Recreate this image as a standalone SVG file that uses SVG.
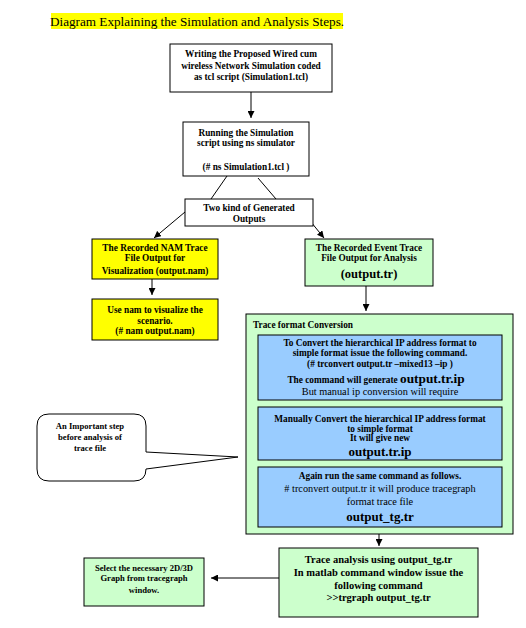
<svg xmlns="http://www.w3.org/2000/svg" width="526" height="628" viewBox="0 0 526 628">
<style>
text{font-family:"Liberation Serif","Times New Roman",serif;fill:#000;text-anchor:middle}
.b{font-weight:bold;font-size:9.3px}
.r{font-size:10.3px}
.big{font-weight:bold;font-size:13px}
.box{stroke:#000;stroke-width:1}
.w{fill:#fff}
.y{fill:#ffff00}
.g{fill:#ccffcc}
.bl{fill:#99ccff}
.c line,.c polyline{stroke:#000;stroke-width:1;fill:none}
.arr{marker-end:url(#ah)}
</style>
<defs>
<marker id="ah" viewBox="0 0 10 10" refX="10" refY="5" markerWidth="7" markerHeight="7" orient="auto" markerUnits="userSpaceOnUse">
<path d="M0,0 L10,5 L0,10 z" fill="#000"/>
</marker>
</defs>
<rect width="526" height="628" fill="#fff"/>

<g id="title">
<rect x="51" y="13" width="292" height="16" fill="#ffff00"/>
<text x="197" y="26" style="font-size:13.2px">Diagram Explaining the Simulation and Analysis Steps.</text>
</g>

<g id="connectors" class="c">
<line class="arr" x1="251" y1="92" x2="251" y2="118"/>
<line x1="227" y1="176" x2="211" y2="199"/>
<line x1="258" y1="178" x2="276" y2="199"/>
<line class="arr" x1="185" y1="212" x2="154" y2="238"/>
<line class="arr" x1="311" y1="222" x2="324" y2="238"/>
<line class="arr" x1="152" y1="279" x2="152" y2="295"/>
<line class="arr" x1="366" y1="286" x2="366" y2="311"/>
<line class="arr" x1="379" y1="534" x2="379" y2="546"/>
<line class="arr" x1="279" y1="578" x2="211" y2="578"/>
</g>

<g id="n1">
<rect class="box w" x="170" y="44" width="162" height="48"/>
<text class="b" x="251" y="57">Writing the Proposed Wired cum</text>
<text class="b" x="251" y="68.5">wireless Network Simulation coded</text>
<text class="b" x="251" y="80">as tcl script (Simulation1.tcl)</text>
</g>

<g id="n2">
<rect class="box w" x="183" y="122" width="126" height="54"/>
<text class="b" x="246" y="136">Running the Simulation</text>
<text class="b" x="246" y="145.5">script using ns simulator</text>
<text class="b" x="246" y="170">(# ns Simulation1.tcl )</text>
</g>

<g id="n3">
<rect class="box w" x="185" y="199" width="128" height="27"/>
<text class="b" x="249" y="211">Two kind of  Generated</text>
<text class="b" x="249" y="221.5">Outputs</text>
</g>

<g id="n4">
<rect class="box y" x="92" y="239" width="126" height="40"/>
<text class="b" x="155" y="251">The Recorded NAM Trace</text>
<text class="b" x="155" y="261">File Output  for</text>
<text class="b" x="155" y="274">Visualization (output.nam)</text>
</g>

<g id="n5">
<rect class="box y" x="92" y="299" width="126" height="41"/>
<text class="b" x="155" y="313">Use nam to visualize the</text>
<text class="b" x="155" y="323.5">scenario.</text>
<text class="b" x="155" y="333.5">(# nam  output.nam)</text>
</g>

<g id="n6">
<rect class="box g" x="305" y="239" width="128" height="47"/>
<text class="b" x="369" y="251">The Recorded Event Trace</text>
<text class="b" x="369" y="261">File Output for Analysis</text>
<text x="369" y="278" style="font-size:12.5px;font-weight:bold">(output.tr)</text>
</g>

<g id="n7">
<rect class="box g" x="246" y="314" width="267" height="220"/>
<text class="b" x="253" y="328" style="text-anchor:start">Trace format Conversion</text>
</g>

<g id="n8">
<rect class="box bl" x="258" y="335" width="244" height="65"/>
<text class="b" x="380" y="346">To Convert the hierarchical IP address format to</text>
<text class="b" x="380" y="356">simple format issue the following command.</text>
<text class="b" x="380" y="367">(# trconvert output.tr –mixed13 –ip )</text>
<text class="b" x="376" y="383">The command will generate <tspan style="font-size:13.3px">output.tr.ip</tspan></text>
<text class="r" x="380" y="394.5">But manual ip conversion will require</text>
</g>

<g id="n9">
<rect class="box bl" x="258" y="407" width="244" height="53"/>
<text class="b" x="380" y="422">Manually Convert the hierarchical IP address format</text>
<text class="b" x="380" y="431.5">to simple format</text>
<text class="b" x="380" y="440.5">It will give new</text>
<text class="big" x="380" y="456">output.tr.ip</text>
</g>

<g id="n10">
<rect class="box bl" x="258" y="467" width="244" height="60"/>
<text class="b" x="380" y="479">Again run the same command as follows.</text>
<text class="r" x="380" y="491.5"># trconvert output.tr it will produce tracegraph</text>
<text class="r" x="380" y="504.5">format trace file</text>
<text class="big" x="380" y="521">output_tg.tr</text>
</g>

<g id="n11">
<rect class="box g" x="279" y="548" width="199" height="69"/>
<text x="378.5" y="562.5" style="font-size:10.5px;font-weight:bold">Trace analysis using output_tg.tr</text>
<text x="378.5" y="575.5" style="font-size:10.5px;font-weight:bold">In matlab command window issue the</text>
<text x="378.5" y="588.5" style="font-size:10.5px;font-weight:bold">following command</text>
<text x="378.5" y="600.5" style="font-size:10.5px;font-weight:bold">&gt;&gt;trgraph output_tg.tr</text>
</g>

<g id="n12">
<rect class="box g" x="84" y="558" width="120" height="48"/>
<text x="144" y="571" style="font-size:8.6px;font-weight:bold">Select the  necessary 2D/3D</text>
<text x="144" y="581" style="font-size:8.6px;font-weight:bold">Graph from tracegraph</text>
<text x="144" y="593" style="font-size:8.6px;font-weight:bold">window.</text>
</g>

<g id="n13">
<path d="M49,414 H134 Q146,414 146,426 V452 L238,457 L146,469 Q146,481 134,481 H49 Q37,481 37,469 V426 Q37,414 49,414 Z" fill="#fff" stroke="#000" stroke-width="1"/>
<text x="90" y="429" style="font-size:8.6px;font-weight:bold">An Important step</text>
<text x="90" y="439.5" style="font-size:8.6px;font-weight:bold">before analysis of</text>
<text x="90" y="450.5" style="font-size:8.6px;font-weight:bold">trace file</text>
</g>
</svg>
